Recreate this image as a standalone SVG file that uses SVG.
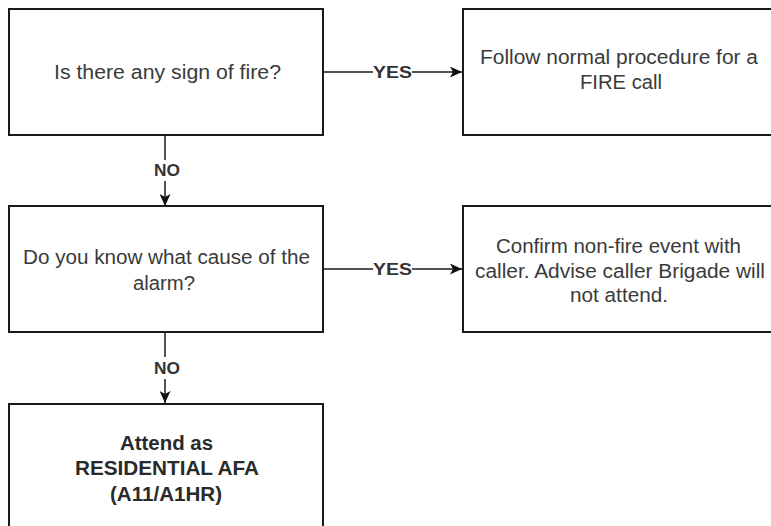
<svg xmlns="http://www.w3.org/2000/svg" width="771" height="526" viewBox="0 0 771 526">
<style>
.box{fill:#fff;stroke:#1a1a1a;stroke-width:2}
.t{font-family:"Liberation Sans",Arial,sans-serif;font-size:20px;fill:#3a3a3a;text-anchor:middle}
.b{font-weight:bold;fill:#2a2a2a}
.lbl{font-family:"Liberation Sans",Arial,sans-serif;font-size:17px;font-weight:bold;fill:#333;text-anchor:middle}
.edge{stroke:#1a1a1a;stroke-width:1.5;fill:none}
.ah{fill:#111}
</style>
<defs>
<marker id="arr" markerWidth="12" markerHeight="11" refX="12" refY="5.5" orient="auto" markerUnits="userSpaceOnUse">
<path class="ah" d="M0,0 L12,5.5 L0,11 L3,5.5 Z"/>
</marker>
</defs>
<rect width="771" height="526" fill="#fff"/>
<g id="connectors">
<line class="edge" x1="165" y1="135" x2="165" y2="160"/>
<line class="edge" x1="165" y1="181" x2="165" y2="206" marker-end="url(#arr)"/>
<text class="lbl" x="167" y="176" textLength="26" lengthAdjust="spacingAndGlyphs">NO</text>
<line class="edge" x1="165" y1="332" x2="165" y2="357"/>
<line class="edge" x1="165" y1="379" x2="165" y2="403" marker-end="url(#arr)"/>
<text class="lbl" x="167" y="374" textLength="26" lengthAdjust="spacingAndGlyphs">NO</text>
<line class="edge" x1="323" y1="72" x2="373" y2="72"/>
<line class="edge" x1="412" y1="72" x2="462" y2="72" marker-end="url(#arr)"/>
<text class="lbl" x="392.5" y="78" textLength="39" lengthAdjust="spacingAndGlyphs">YES</text>
<line class="edge" x1="323" y1="269" x2="373" y2="269"/>
<line class="edge" x1="412" y1="269" x2="462" y2="269" marker-end="url(#arr)"/>
<text class="lbl" x="392.5" y="275" textLength="39" lengthAdjust="spacingAndGlyphs">YES</text>
</g>
<g id="n1">
<rect class="box" x="9" y="9" width="314" height="126"/>
<text class="t" x="167.5" y="79" textLength="227" lengthAdjust="spacingAndGlyphs">Is there any sign of fire?</text>
</g>
<g id="n2">
<rect class="box" x="463" y="9" width="316" height="126"/>
<text class="t" x="619" y="64" textLength="278" lengthAdjust="spacingAndGlyphs">Follow normal procedure for a</text>
<text class="t" x="621" y="89" textLength="82" lengthAdjust="spacingAndGlyphs">FIRE call</text>
</g>
<g id="n3">
<rect class="box" x="9" y="206" width="314" height="126"/>
<text class="t" x="166.5" y="264" textLength="287" lengthAdjust="spacingAndGlyphs">Do you know what cause of the</text>
<text class="t" x="164" y="290" textLength="62" lengthAdjust="spacingAndGlyphs">alarm?</text>
</g>
<g id="n4">
<rect class="box" x="463" y="206" width="316" height="126"/>
<text class="t" x="618.5" y="253" textLength="245" lengthAdjust="spacingAndGlyphs">Confirm non-fire event with</text>
<text class="t" x="620" y="278" textLength="290" lengthAdjust="spacingAndGlyphs">caller. Advise caller Brigade will</text>
<text class="t" x="619" y="302" textLength="98" lengthAdjust="spacingAndGlyphs">not attend.</text>
</g>
<g id="n5">
<rect class="box" x="9" y="404" width="314" height="140"/>
<text class="t b" x="166.5" y="450" textLength="93" lengthAdjust="spacingAndGlyphs">Attend as</text>
<text class="t b" x="167" y="475" textLength="184" lengthAdjust="spacingAndGlyphs">RESIDENTIAL AFA</text>
<text class="t b" x="166" y="501" textLength="112" lengthAdjust="spacingAndGlyphs">(A11/A1HR)</text>
</g>
</svg>
